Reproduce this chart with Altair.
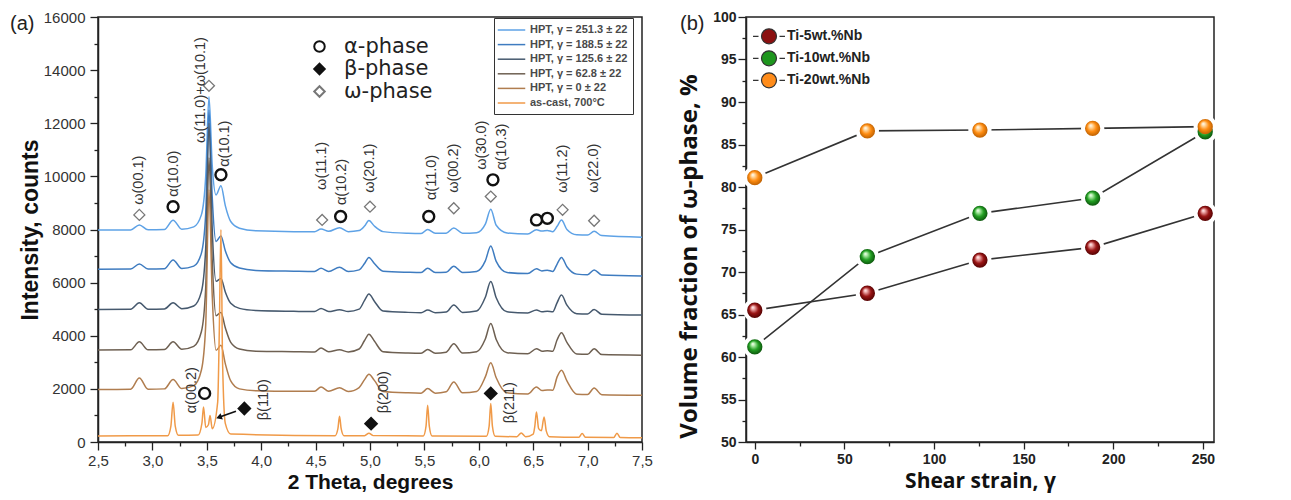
import altair as alt
import pandas as pd

# ---------------- (a) XRD patterns ----------------
two_theta = [2.50, 2.80, 2.88, 2.96, 3.11, 3.19, 3.27, 3.38, 3.45, 3.49, 3.52, 3.55, 3.585, 3.63,
             3.67, 3.72, 3.80, 3.95, 4.30, 4.49, 4.55, 4.62, 4.72, 4.80, 4.90, 4.95, 4.99, 5.04,
             5.12, 5.35, 5.47, 5.53, 5.60, 5.70, 5.77, 5.85, 5.98, 6.06, 6.11, 6.16, 6.26, 6.45,
             6.53, 6.58, 6.63, 6.68, 6.72, 6.76, 6.81, 6.90, 7.00, 7.06, 7.13, 7.50]
hpt_251 = [7980, 7985, 8170, 7990, 8000, 8350, 8010, 8100, 8550, 10000, 13000, 10400, 9300, 9650,
           8900, 8300, 8050, 7950, 7920, 7920, 8020, 7930, 8070, 7920, 7960, 8130, 8340, 8130,
           7920, 7860, 7850, 8000, 7860, 7860, 8060, 7860, 7880, 8200, 8760, 8160, 7870, 7830,
           7990, 7940, 7960, 7920, 8120, 8360, 8000, 7800, 7790, 7930, 7770, 7710]
hpt_188 = [6500, 6510, 6700, 6510, 6520, 6850, 6530, 6620, 7100, 8600, 12500, 9200, 7550, 7760,
           7200, 6750, 6550, 6460, 6430, 6420, 6540, 6420, 6580, 6420, 6480, 6720, 6950, 6720,
           6430, 6390, 6380, 6540, 6380, 6390, 6620, 6380, 6420, 6820, 7380, 6800, 6380, 6340,
           6520, 6440, 6470, 6420, 6700, 6950, 6600, 6320, 6300, 6480, 6290, 6250]
hpt_126 = [4990, 5000, 5240, 5000, 5010, 5240, 5020, 5120, 5650, 7300, 12000, 8000, 6050, 6160,
           5650, 5220, 5030, 4950, 4920, 4910, 5030, 4910, 4980, 4910, 5000, 5330, 5570, 5300,
           4930, 4880, 4870, 4970, 4870, 4890, 5160, 4880, 4930, 5450, 6040, 5430, 4900, 4860,
           4970, 4900, 4920, 4900, 5250, 5530, 5150, 4830, 4820, 4990, 4810, 4780]
hpt_63 = [3460, 3470, 3770, 3470, 3480, 3770, 3490, 3600, 4150, 5800, 10700, 6800, 4750, 4880,
          4300, 3750, 3500, 3420, 3400, 3390, 3540, 3400, 3470, 3390, 3500, 3820, 4060, 3800,
          3400, 3350, 3340, 3480, 3340, 3380, 3700, 3350, 3400, 3880, 4460, 3860, 3360, 3320,
          3510, 3420, 3440, 3420, 3850, 4110, 3750, 3310, 3300, 3510, 3290, 3270]
hpt_0 = [1975, 1990, 2410, 1990, 2000, 2350, 2010, 2120, 2700, 4400, 9500, 5500, 3450, 3640,
         2950, 2300, 2000, 1930, 1910, 1910, 2070, 1910, 2040, 1900, 2050, 2350, 2550, 2320,
         1900, 1850, 1840, 2010, 1840, 1890, 2260, 1850, 1900, 2450, 2980, 2420, 1850, 1810,
         2070, 1940, 1960, 1950, 2450, 2700, 2300, 1800, 1790, 2030, 1780, 1760]
cast_theta = [2.50, 3.14, 3.17, 3.19, 3.21, 3.24, 3.42, 3.455, 3.47, 3.49, 3.515, 3.53, 3.55,
              3.60, 3.615, 3.63, 3.645, 3.67, 3.72, 4.68, 4.705, 4.72, 4.735, 4.76, 4.95, 4.99,
              5.03, 5.49, 5.515, 5.53, 5.545, 5.57, 6.07, 6.095, 6.11, 6.125, 6.15, 6.35, 6.39,
              6.43, 6.50, 6.515, 6.53, 6.55, 6.575, 6.60, 6.62, 6.65, 6.92, 6.95, 6.98, 7.24,
              7.27, 7.30, 7.50]
cast_counts = [230, 235, 600, 1500, 600, 250, 260, 700, 1320, 550, 650, 1000, 500,
               1500, 4200, 8000, 3000, 700, 300, 240, 500, 970, 500, 240, 240, 330,
               240, 230, 600, 1380, 600, 230, 220, 600, 1450, 600, 220, 200, 340,
               200, 300, 600, 1130, 500, 420, 940, 420, 200, 180, 320, 180, 170,
               330, 170, 160]

series_names = ["HPT, γ = 251.3 ± 22", "HPT, γ = 188.5 ± 22", "HPT, γ = 125.6 ± 22",
                "HPT, γ = 62.8 ± 22", "HPT, γ = 0 ± 22", "as-cast, 700°C"]
series_colors = ["#5ea2e6", "#3f7cc0", "#46596e", "#6e6052", "#b07d4f", "#f09a48"]

# phase markers above peaks
sym_theta = [2.88, 3.19, 3.52, 3.63, 4.56, 4.73, 5.00, 5.54, 5.77, 6.11, 6.13, 6.53, 6.63,
             6.77, 7.06, 3.48, 3.845, 5.01, 6.11]
sym_counts = [8550, 8860, 13410, 10060, 8360, 8490, 8860, 8490, 8800, 9240, 9870, 8360, 8420,
              8740, 8330, 1830, 1260, 690, 1830]
sym_phase = ["ω", "α", "ω", "α", "ω", "α", "ω", "α", "ω", "ω", "α", "α", "α",
             "ω", "ω", "α", "β", "β", "β"]
phase_names = ["α-phase", "β-phase", "ω-phase"]

# reflection labels
lab_text = ["ω(00.1)", "α(10.0)", "ω(11.0)+ω(10.1)", "α(10.1)", "ω(11.1)", "α(10.2)", "ω(20.1)",
            "α(11.0)", "ω(00.2)", "ω(30.0)", "α(10.3)", "ω(11.2)", "ω(22.0)", "α(00.2)",
            "β(110)", "β(200)", "β(211)"]
lab_theta = [2.877, 3.194, 3.447, 3.667, 4.559, 4.743, 5.0, 5.57, 5.772, 6.029, 6.213, 6.77,
             7.06, 3.364, 4.026, 5.129, 6.287]
lab_counts = [8930, 9230, 11260, 10360, 9490, 8920, 9380, 9110, 9380, 10245, 10245, 9380,
              9380, 1080, 820, 1080, 705]

arrow_theta = [3.768, 3.612]
arrow_counts = [1158, 931]

xrd_ticks = [2.5, 2.75, 3.0, 3.25, 3.5, 3.75, 4.0, 4.25, 4.5, 4.75, 5.0, 5.25, 5.5, 5.75,
             6.0, 6.25, 6.5, 6.75, 7.0, 7.25, 7.5]
count_ticks = list(range(0, 16001, 1000))

# ---------------- (b) omega fraction ----------------
strain = [0, 62.8, 125.6, 188.5, 251.3]
ti5 = [65.5, 67.5, 71.4, 72.9, 76.9]
ti10 = [61.2, 71.8, 76.9, 78.7, 86.5]
ti20 = [81.1, 86.6, 86.7, 86.9, 87.1]
alloys = ["Ti-5wt.%Nb", "Ti-10wt.%Nb", "Ti-20wt.%Nb"]
alloy_colors = ["#8b1010", "#1e961e", "#ff8c1a"]
ball_shades = [("#f3b3b3", "#9a1414", "#4a0000"),
               ("#b8f0b0", "#22a022", "#0a4a0a"),
               ("#ffe0b0", "#ff8c10", "#b35a00")]
strain_ticks = list(range(0, 251, 25))
frac_ticks = [50 + 2.5 * i for i in range(21)]

# ---------------- build tables ----------------
rows = []
for name, ys in zip(series_names[:5], [hpt_251, hpt_188, hpt_126, hpt_63, hpt_0]):
    for x, y in zip(two_theta, ys):
        rows.append({"theta": x, "counts": y, "series": name})
for x, y in zip(cast_theta, cast_counts):
    rows.append({"theta": x, "counts": y, "series": series_names[5]})
xrd = pd.DataFrame(rows)

pmap = {"α": "α-phase", "β": "β-phase", "ω": "ω-phase"}
syms = pd.DataFrame({"theta": sym_theta, "counts": sym_counts,
                     "phase": [pmap[p] for p in sym_phase]})
labs = pd.DataFrame({"theta": lab_theta, "counts": lab_counts, "label": lab_text})
arrow = pd.DataFrame({"theta": arrow_theta, "counts": arrow_counts})
arrow_head = arrow.iloc[[1]]

frac_rows = []
for name, vals in zip(alloys, [ti5, ti10, ti20]):
    for s, v in zip(strain, vals):
        frac_rows.append({"strain": s, "frac": v, "alloy": name})
frac = pd.DataFrame(frac_rows)

SANS = "Liberation Sans"
WIDE = "DejaVu Sans"
TITLE_B = "Open Sans"

# ---------------- left panel ----------------
xs = alt.Scale(domain=[2.5, 7.5], nice=False, zero=False)
ys = alt.Scale(domain=[0, 16000], nice=False)
x_axis_a = alt.Axis(
    values=xrd_ticks, title="2 Theta, degrees", labelFlush=False,
    labelExpr="round(datum.value * 4) % 2 === 0 ? replace(format(datum.value, '.1f'), '.', ',') : ''",
    tickSize={"condition": {"test": "round(datum.value * 4) % 2 === 0", "value": 8}, "value": 4},
    labelFont=SANS, labelFontSize=15, labelColor="#333", labelPadding=3,
    titleFont=SANS, titleFontSize=21, titleFontWeight="bold", titleColor="#111", titlePadding=3,
)
y_axis_a = alt.Axis(
    values=count_ticks, title="Intensity, counts", labelFlush=False,
    labelExpr="datum.value % 2000 === 0 ? format(datum.value, 'd') : ''",
    tickSize={"condition": {"test": "datum.value % 2000 === 0", "value": 8}, "value": 4},
    labelFont=SANS, labelFontSize=15, labelColor="#333", labelPadding=5,
    titleFont=SANS, titleFontSize=23, titleFontWeight="bold", titleColor="#111", titlePadding=1,
)
X = alt.X("theta:Q", scale=xs, axis=x_axis_a)
Y = alt.Y("counts:Q", scale=ys, axis=y_axis_a)

curve_legend = alt.Legend(
    title=None, orient="none", legendX=396, legendY=1,
    symbolType="M-1.5,0H3.5", symbolSize=121, symbolStrokeWidth=1.5,
    labelFont=SANS, labelFontSize=11, labelFontWeight="bold", labelColor="#4a4a4a",
    labelOffset=17.5, rowPadding=2.6, padding=5.5, labelLimit=220,
    strokeColor="#333", fillColor="white",
)
lines_a = alt.Chart(xrd).mark_line(interpolate="monotone", strokeWidth=1.5).encode(
    x=X, y=Y,
    color=alt.Color("series:N", scale=alt.Scale(domain=series_names, range=series_colors),
                    legend=curve_legend),
)

phase_legend = alt.Legend(
    title=None, orient="none", legendX=211, legendY=19, symbolSize=110, symbolStrokeWidth=2,
    labelFont=WIDE, labelFontSize=21, labelColor="#222", labelOffset=14, rowPadding=0.5,
    padding=0,
)
sym_layer = alt.Chart(syms).mark_point(size=120, opacity=1, fillOpacity=1).encode(
    x=X, y=Y,
    shape=alt.Shape("phase:N", scale=alt.Scale(domain=phase_names,
                    range=["circle", "diamond", "diamond"]), legend=phase_legend),
    fill=alt.Fill("phase:N", scale=alt.Scale(domain=phase_names,
                  range=["white", "#111111", "white"]), legend=phase_legend),
    stroke=alt.Stroke("phase:N", scale=alt.Scale(domain=phase_names,
                      range=["#111111", "#111111", "#777777"]), legend=phase_legend),
    strokeWidth=alt.condition("datum.phase === 'ω-phase'", alt.value(1.3), alt.value(2.4)),
)
text_layer = alt.Chart(labs).mark_text(
    angle=270, align="left", baseline="middle", font=SANS, fontSize=14.5, color="#333"
).encode(x=X, y=Y, text="label:N")

arrow_line = alt.Chart(arrow).mark_line(color="#111", strokeWidth=1.8).encode(x=X, y=Y)
arrow_tip = alt.Chart(arrow_head).mark_point(
    shape="triangle-up", angle=250, size=45, filled=True, color="#111", opacity=1
).encode(x=X, y=Y)

panel_a = alt.Chart(pd.DataFrame({"t": ["(a)"]})).mark_text(
    align="left", baseline="middle", font=SANS, fontSize=20, color="#222"
).encode(x=alt.value(-88), y=alt.value(7), text="t:N")

left = alt.layer(lines_a, sym_layer, text_layer, arrow_line, arrow_tip, panel_a).properties(
    width=544, height=425)

# ---------------- right panel ----------------
sx = alt.Scale(domain=[-4.9, 256.2], nice=False, zero=False)
sy = alt.Scale(domain=[50, 100], nice=False, zero=False)
x_axis_b = alt.Axis(
    values=strain_ticks, title="Shear strain, γ", labelFlush=False,
    labelExpr="datum.value % 50 === 0 ? format(datum.value, 'd') : ''",
    tickSize={"condition": {"test": "datum.value % 50 === 0", "value": 7}, "value": 4},
    labelFont=SANS, labelFontSize=14, labelFontWeight="bold", labelColor="#222", labelPadding=3,
    titleFont=TITLE_B, titleFontSize=21, titleFontWeight="bold", titleColor="#111", titlePadding=4,
)
y_axis_b = alt.Axis(
    values=frac_ticks, title="Volume fraction of ω-phase, %", labelFlush=False,
    labelExpr="datum.value % 5 === 0 ? format(datum.value, 'd') : ''",
    tickSize={"condition": {"test": "datum.value % 5 === 0", "value": 8}, "value": 4},
    labelFont=SANS, labelFontSize=14, labelFontWeight="bold", labelColor="#222", labelPadding=2,
    titleFont=TITLE_B, titleFontSize=24, titleFontWeight="bold", titleColor="#111", titlePadding=11,
    titleY=239,
)
XB = alt.X("strain:Q", scale=sx, axis=x_axis_b)
YB = alt.Y("frac:Q", scale=sy, axis=y_axis_b)

lines_b = alt.Chart(frac).mark_line(color="#333", strokeWidth=1.6).encode(
    x=XB, y=YB, detail="alloy:N")
halo = alt.Chart(frac).mark_circle(color="white", opacity=1, size=540).encode(x=XB, y=YB)

balls = []
for name, (c1, c2, c3) in zip(alloys, ball_shades):
    grad = {
        "gradient": "radial", "x1": 0.36, "y1": 0.3, "r1": 0.0,
        "x2": 0.5, "y2": 0.5, "r2": 0.55,
        "stops": [{"offset": 0.0, "color": "#ffffff"}, {"offset": 0.18, "color": c1},
                  {"offset": 0.55, "color": c2}, {"offset": 1.0, "color": c3}],
    }
    balls.append(
        alt.Chart(frac).transform_filter(alt.datum.alloy == name)
        .mark_circle(fill=grad, opacity=1, size=235).encode(x=XB, y=YB)
    )

alloy_legend = alt.Legend(
    title=None, orient="none", legendX=14.5, legendY=10.8,
    symbolType="M-2.13,0H-1.4M1.4,0H2.13M1,0A1,1,0,1,1,-1,0A1,1,0,1,1,1,0Z",
    symbolSize=225, symbolStrokeColor="#333", symbolStrokeWidth=1.2, symbolOpacity=1,
    labelFont=SANS, labelFontSize=14, labelFontWeight="bold", labelColor="#222",
    labelOffset=9.5, rowPadding=1, padding=0,
)
legend_carrier = alt.Chart(frac).mark_circle(opacity=0).encode(
    x=XB, y=YB,
    fill=alt.Fill("alloy:N", scale=alt.Scale(domain=alloys, range=alloy_colors),
                  legend=alloy_legend),
)
panel_b = alt.Chart(pd.DataFrame({"t": ["(b)"]})).mark_text(
    align="left", baseline="middle", font=SANS, fontSize=20, color="#222"
).encode(x=alt.value(-66), y=alt.value(7), text="t:N")

right = alt.layer(lines_b, halo, *balls, legend_carrier, panel_b).properties(
    width=468, height=425)

chart = (
    alt.hconcat(left, right, spacing=22)
    .resolve_scale(color="independent", fill="independent", shape="independent",
                   stroke="independent")
    .resolve_legend(color="independent", fill="independent", shape="independent",
                    stroke="independent")
    .properties(padding={"left": 1, "top": 1, "right": 0, "bottom": 0})
    .configure_view(stroke="#222", strokeWidth=1.5)
    .configure_axis(grid=False, domainColor="#222", domainWidth=1.5,
                    tickColor="#222", tickWidth=1.3)
)
chart.save("out.html", embed_options={"renderer": "svg", "actions": False})
